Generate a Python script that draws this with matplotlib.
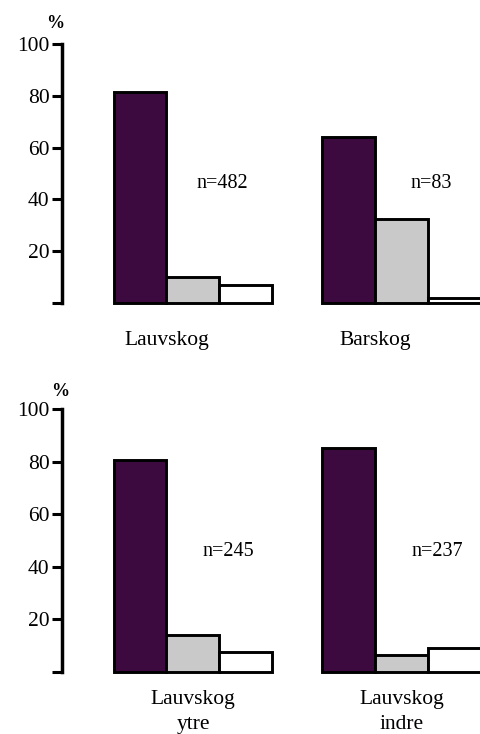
import matplotlib
matplotlib.use("Agg")
import matplotlib.pyplot as plt
import numpy as np
from matplotlib.transforms import blended_transform_factory

plt.rcParams["font.family"] = ["Liberation Serif", "DejaVu Serif"]

# data (percent)
top_labels = ["Lauvskog", "Barskog"]
top_dark = [81.5, 64.0]
top_grey = [10.0, 32.5]
top_white = [7.0, 2.0]
top_n = [482, 83]

bot_labels = ["Lauvskog\nytre", "Lauvskog\nindre"]
bot_dark = [80.5, 85.0]
bot_grey = [14.0, 6.5]
bot_white = [7.5, 9.0]
bot_n = [245, 237]

C_DARK = "#3d0a40"
C_GREY = "#c9c9c9"
C_WHITE = "#ffffff"
W = 0.254

W_PX, H_PX = 481, 734
fig = plt.figure(figsize=(W_PX / 100, H_PX / 100), dpi=100)


def px_axes(left, top, right, bottom):
    return fig.add_axes([left / W_PX, 1 - bottom / H_PX,
                         (right - left) / W_PX, (bottom - top) / H_PX])


def panel(ax, labels, dark, grey, white, nvals, label_dx, label_dy, n_dx, pct_xy):
    x = np.arange(len(labels))
    for vals, col, off in ((dark, C_DARK, -W), (grey, C_GREY, 0.0), (white, C_WHITE, W)):
        ax.bar(x + off, vals, width=W, color=col, edgecolor="black",
               linewidth=2.1, clip_on=False, zorder=3)
    ax.set_xlim(-0.628, 1.381)
    ax.set_ylim(0, 100)
    ax.set_yticks([0, 20, 40, 60, 80, 100])
    ax.set_yticklabels(["", "20", "40", "60", "80", "100"])
    ax.set_xticks([])
    ax.tick_params(axis="y", direction="out", length=7, width=2.2, pad=2,
                   labelsize=15.5)
    for s in ("top", "right", "bottom"):
        ax.spines[s].set_visible(False)
    ax.spines["left"].set_linewidth(2.5)
    ax.text(pct_xy[0], pct_xy[1], "%", transform=ax.transAxes, fontsize=13,
            fontweight="bold", ha="center", va="center")
    tr = blended_transform_factory(ax.transData, ax.transAxes)
    for xi, lab in zip(x, labels):
        ax.text(xi + label_dx, label_dy, lab, transform=tr, ha="center",
                va="top", fontsize=15.5, linespacing=1.4)
    for xi, n in zip(x, nvals):
        ax.text(xi + n_dx, 46, f"n={n}", ha="center", va="center", fontsize=14.5)


ax1 = px_axes(62, 44, 481, 303)
panel(ax1, top_labels, top_dark, top_grey, top_white, top_n, -W / 2, -0.11, 0.14,
      (-0.017, 1.08))

ax2 = px_axes(62, 409, 481, 672)
panel(ax2, bot_labels, bot_dark, bot_grey, bot_white, bot_n, 0.0, -0.07, 0.17,
      (-0.005, 1.065))

fig.savefig("out.png", dpi=100)
